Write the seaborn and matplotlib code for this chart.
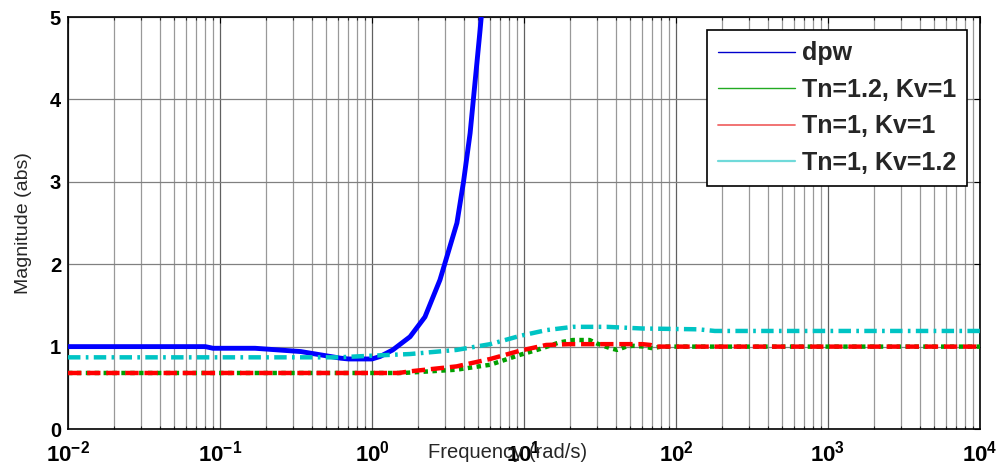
import numpy as np
import pandas as pd
import matplotlib
matplotlib.use('Agg')
import matplotlib.pyplot as plt
import seaborn as sns
from matplotlib.lines import Line2D
from matplotlib.ticker import LogLocator, FixedLocator, NullFormatter, FuncFormatter

# ---- data ----
freq_dpw = [0.01, 0.08, 0.09, 0.17, 0.34, 0.62, 0.7, 1.0, 1.13, 1.37, 1.78, 2.23, 2.8, 3.62, 4.0, 4.42, 5.14, 5.6]
mag_dpw = [1.00, 1.00, 0.98, 0.98, 0.94, 0.86, 0.85, 0.85, 0.88, 0.96, 1.12, 1.36, 1.81, 2.5, 3.0, 3.59, 4.84, 5.6]

freq_g = [0.01, 1.6, 3.6, 6.0, 9.4, 12.7, 17, 21, 27, 30, 37, 41, 47, 52, 62, 70, 80, 1e4]
mag_g = [0.68, 0.68, 0.72, 0.78, 0.90, 0.97, 1.05, 1.08, 1.08, 1.04, 0.98, 0.96, 1.0, 1.01, 1.0, 0.98, 1.0, 1.0]

freq_r = [0.01, 1.5, 1.78, 3.6, 6.0, 9.4, 14, 20, 60, 68, 75, 1e4]
mag_r = [0.68, 0.68, 0.70, 0.76, 0.85, 0.95, 1.02, 1.03, 1.03, 1.02, 1.0, 1.0]

freq_c = [0.01, 0.6, 1.0, 1.78, 3.6, 6.0, 9.4, 14, 21, 35, 60, 140, 180, 1e4]
mag_c = [0.87, 0.87, 0.89, 0.91, 0.96, 1.03, 1.13, 1.20, 1.24, 1.24, 1.22, 1.21, 1.19, 1.19]

labels = ['dpw', 'Tn=1.2, Kv=1', 'Tn=1, Kv=1', 'Tn=1, Kv=1.2']
y_ticks = [0, 1, 2, 3, 4, 5]
x_decades = [-2, -1, 0, 1, 2, 3, 4]

sns.set_style('white')
plt.rcParams['font.family'] = ['Liberation Sans', 'DejaVu Sans']
plt.rcParams['mathtext.fontset'] = 'custom'
plt.rcParams['mathtext.rm'] = 'Liberation Sans'
plt.rcParams['mathtext.bf'] = 'Liberation Sans:bold'
plt.rcParams['mathtext.it'] = 'Liberation Sans:italic'

fig = plt.figure(figsize=(10, 4.74), dpi=100)
ax = fig.add_axes([0.068, 0.0949, 0.912, 0.8692])

lw = 3.2
sns.lineplot(x=freq_dpw, y=mag_dpw, ax=ax, color='#0000ff', lw=3.5, sort=False, legend=False, zorder=3)
sns.lineplot(x=freq_g, y=mag_g, ax=ax, color='#00a000', lw=lw, sort=False, legend=False, zorder=4)
ax.lines[-1].set_dashes((1, 1))
sns.lineplot(x=freq_r, y=mag_r, ax=ax, color='#ff0000', lw=lw, sort=False, legend=False, zorder=5)
ax.lines[-1].set_dashes((3, 1.3))
sns.lineplot(x=freq_c, y=mag_c, ax=ax, color='#00c4c4', lw=lw, sort=False, legend=False, zorder=6)
ax.lines[-1].set_dashes((2.8, 1.2, 0.6, 1.2))

ax.set_xscale('log')
ax.set_xlim(1e-2, 1e4)
ax.set_ylim(0, 5)

ax.xaxis.set_major_locator(FixedLocator([10.0 ** d for d in x_decades]))
ax.xaxis.set_minor_locator(LogLocator(base=10, subs=np.arange(2, 10), numticks=20))
ax.xaxis.set_minor_formatter(NullFormatter())
ax.xaxis.set_major_formatter(FuncFormatter(lambda v, p: r'$\mathbf{10^{%d}}$' % int(round(np.log10(v)))))
ax.yaxis.set_major_locator(FixedLocator(y_ticks))
ax.set_yticklabels([str(t) for t in y_ticks], fontweight='bold')

ax.grid(which='major', axis='x', color='#606060', lw=0.9, ls='-')
ax.grid(which='minor', axis='x', color='#999999', lw=0.9, ls='-')
ax.grid(which='major', axis='y', color='#808080', lw=0.9, ls='-')
ax.set_axisbelow(True)

ax.tick_params(axis='both', which='major', direction='in', length=4, width=0.8,
               top=True, right=True, colors='black')
ax.tick_params(axis='x', which='minor', direction='in', length=2.5, width=0.8, top=True, bottom=True)
ax.tick_params(axis='x', which='major', labelsize=16, pad=8)
ax.tick_params(axis='y', which='major', labelsize=14.5, pad=5)
for s in ax.spines.values():
    s.set_color('black')
    s.set_linewidth(1.2)

ax.set_ylabel('Magnitude (abs)', fontsize=14)
ax.yaxis.set_label_coords(-0.039, 0.5)
ax.set_xlabel('Frequency (rad/s)', fontsize=14.5)
ax.xaxis.set_label_coords(0.482, -0.056)
ax.xaxis.label.set_verticalalignment('center')
ax.xaxis.label.set_zorder(10)

handles = [Line2D([], [], color='#0000cc', lw=1.0),
           Line2D([], [], color='#22aa22', lw=1.0),
           Line2D([], [], color='#f06868', lw=1.3),
           Line2D([], [], color='#70dada', lw=1.6)]
leg = ax.legend(handles, labels, loc='upper right', bbox_to_anchor=(0.986, 0.968),
                borderaxespad=0, fancybox=False, framealpha=1, edgecolor='black',
                prop={'family': 'Liberation Sans', 'weight': 'bold', 'size': 18},
                handlelength=3.1, handletextpad=0.25, labelspacing=0.5, borderpad=0.45)
leg.get_frame().set_linewidth(1.2)

fig.savefig('out.png', dpi=100)
